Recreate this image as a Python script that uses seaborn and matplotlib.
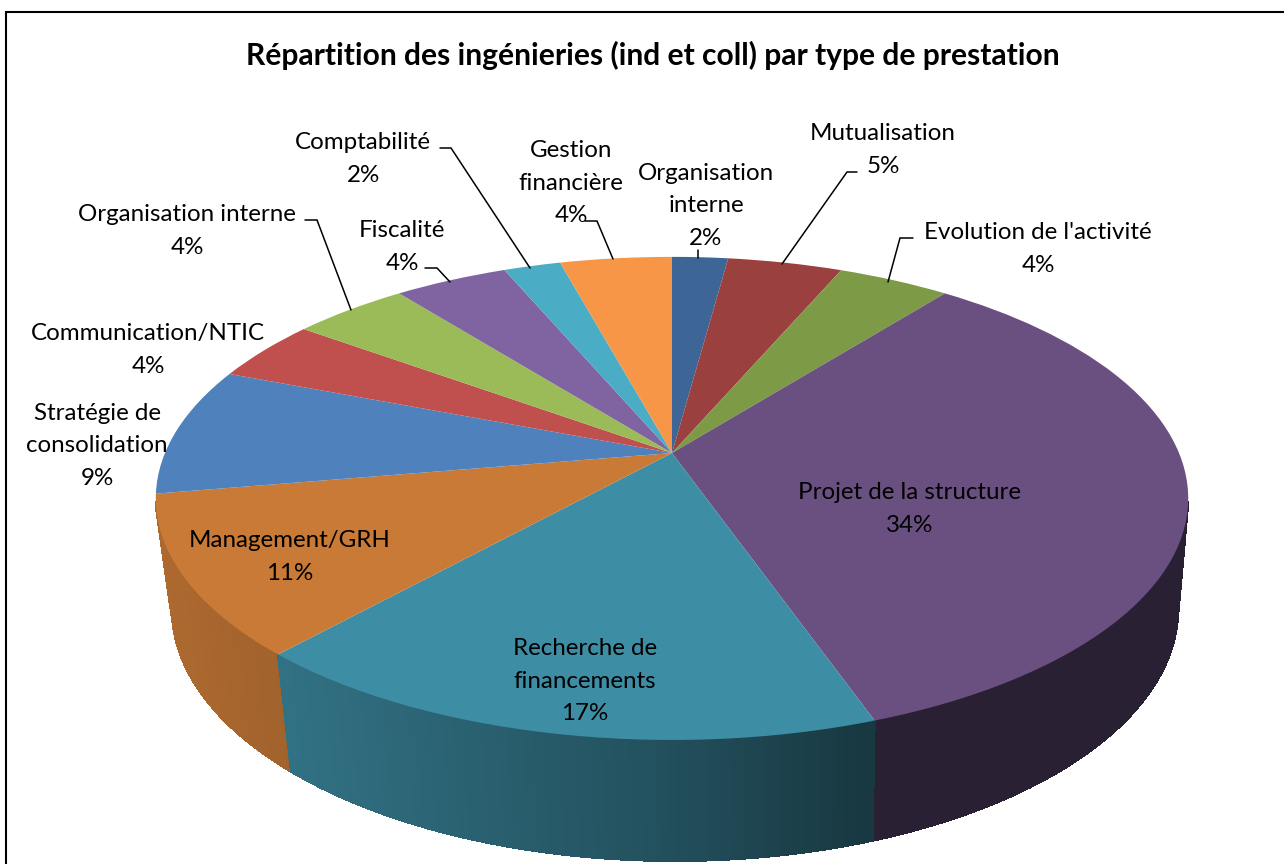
import numpy as np
import matplotlib
matplotlib.use("Agg")
import matplotlib.pyplot as plt
from matplotlib.collections import PolyCollection
from matplotlib.colors import to_rgb
from matplotlib.transforms import Transform
import seaborn as sns

# ---------- data ----------
categories = ["Organisation\ninterne", "Mutualisation", "Evolution de l'activité",
              "Projet de la structure", "Recherche de\nfinancements", "Management/GRH",
              "Stratégie de\nconsolidation", "Communication/NTIC", "Organisation interne",
              "Fiscalité", "Comptabilité", "Gestion\nfinancière"]
shares = [2.1, 4.3, 4.2, 34.07, 16.98, 10.65, 8.6, 4.16, 4.34, 4.26, 2.14, 4.2]
percent_labels = ["2%", "5%", "4%", "34%", "17%", "11%", "9%", "4%", "4%", "4%", "2%", "4%"]
colors = ["#3D6697", "#9A403E", "#7D9A47", "#6A5080", "#3D8DA4", "#C97A37",
          "#4F81BD", "#C0504D", "#9BBB59", "#8064A2", "#4BACC6", "#F79646"]
title = "Répartition des ingénieries (ind et coll) par type de prestation"

# ---------- layout (pixels of the 1284x864 canvas) ----------
label_xy = [(706, 206), (883, 150), (1038, 249), (910, 509), (585, 681), (290, 557),
            (97, 446), (148, 350), (187, 231), (402, 247), (363, 159), (571, 183)]
leaders = [[(698, 250), (698, 258)],
           [(857, 172), (847, 172), (782, 264)],
           [(913, 238), (900, 238), (888, 282)],
           [(585, 221), (597, 221), (613, 259)],
           [(440, 148), (451, 148), (530, 268)],
           [(425, 268), (437, 268), (450, 282)],
           [(305, 220), (317, 220), (351, 310)]]
PIE_CX, PIE_CY = 672.0, 453.0       # apex of the slices
A, C, K = 507.0, 233.0, 0.188       # perspective of the disc
TOP = (672.0, 498.0, 516.0, 242.0)  # outline of the top face
BOT = (675.0, 608.0, 503.0, 253.0)  # outline of the bottom face


class DiscPerspective(Transform):
    """Lays a unit pie flat: (x, y) on the circle -> canvas pixels."""
    input_dims = output_dims = 2
    is_separable = False
    has_inverse = False

    def transform_non_affine(self, xy):
        xy = np.asarray(xy, dtype=float)
        x, down = xy[:, 0], -xy[:, 1]
        w = 1.0 - K * down
        return np.column_stack((PIE_CX + A * x / w, PIE_CY + C * down / w))


def wall_shade(x):
    return np.interp(x, [160, 290, 660, 860, 1190], [0.86, 0.80, 0.57, 0.40, 0.40])


sns.set_theme(style="white")
plt.rcParams["font.family"] = ["Lato", "DejaVu Sans"]
palette = sns.color_palette(colors)

fig = plt.figure(figsize=(12.84, 8.64), dpi=100, facecolor="white")
ax = fig.add_axes([0, 0, 1, 1])

# side wall, built from the same shares as the top face
proj = DiscPerspective()
fractions = np.cumsum([0] + shares) / np.sum(shares)
polys, faces, depth = [], [], []
for i, rgb in enumerate(palette):
    n = max(2, int((fractions[i + 1] - fractions[i]) * 720))
    theta = 2 * np.pi * np.linspace(fractions[i], fractions[i + 1], n + 1)
    top = proj.transform_non_affine(np.column_stack((np.sin(theta), np.cos(theta))))
    bot = np.column_stack((BOT[0] + BOT[2] / TOP[2] * (top[:, 0] - TOP[0]),
                           BOT[1] + BOT[3] / TOP[3] * (top[:, 1] - TOP[1])))
    for j in range(n):
        if min(top[j, 1], top[j + 1, 1]) < TOP[1] + 3:
            continue
        polys.append([top[j], top[j + 1], bot[j + 1], bot[j]])
        xm = 0.5 * (top[j, 0] + top[j + 1, 0])
        faces.append(np.array(to_rgb(rgb)) * wall_shade(xm))
        depth.append(top[j, 1])
order = np.argsort(depth)
wall = PolyCollection([polys[o] for o in order], facecolors=[faces[o] for o in order],
                      edgecolors=[faces[o] for o in order], linewidths=0.8,
                      antialiaseds=False, zorder=1)
ax.add_collection(wall)

# top face
wedges, _ = ax.pie(shares, colors=palette, startangle=90, counterclock=False,
                   radius=1.0, wedgeprops={"linewidth": 0})
for w in wedges:
    w.set_transform(proj + ax.transData)
    w.set_zorder(2)
    w.set_clip_on(False)

ax.set_aspect("auto")
ax.set_xlim(0, 1284)
ax.set_ylim(864, 0)
ax.axis("off")

# frame
ax.plot([6, 6, 1284], [864, 12, 12], color="black", lw=1.5, zorder=3, solid_joinstyle="miter")

# labels
for name, pct, (x, y) in zip(categories, percent_labels, label_xy):
    ax.text(x, y, f"{name}\n{pct}", ha="center", va="center", fontsize=17.4,
            linespacing=1.70, color="black", zorder=5)
for path in leaders:
    xs, ys = zip(*path)
    ax.plot(xs, ys, color="black", lw=1.1, zorder=4, solid_joinstyle="miter")

ax.text(653, 55, title, ha="center", va="center", fontsize=21.6, fontweight="bold",
        color="black", zorder=5)

fig.savefig("out.png", dpi=100, facecolor="white")
